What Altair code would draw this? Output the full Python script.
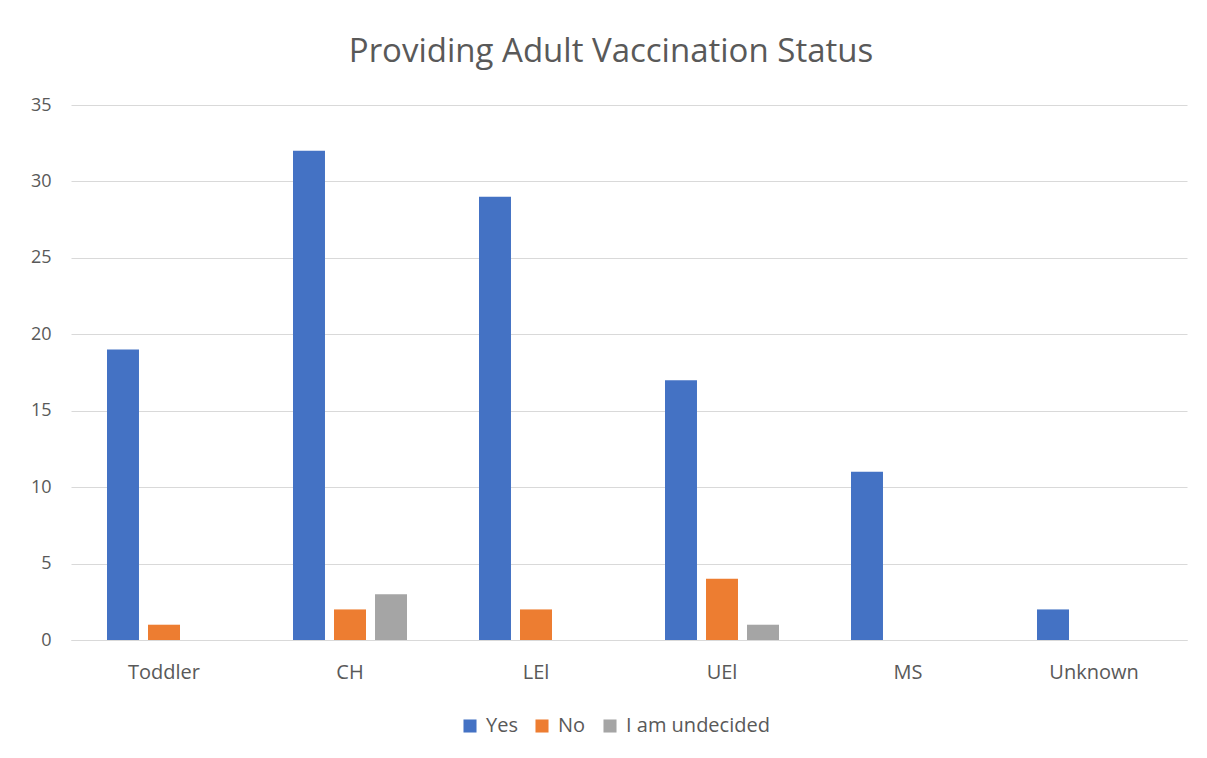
import altair as alt
import pandas as pd

categories = ["Toddler", "CH", "LEl", "UEl", "MS", "Unknown"]
series = ["Yes", "No", "I am undecided"]
yes_vals = [19, 32, 29, 17, 11, 2]
no_vals = [1, 2, 2, 4, 0, 0]
undecided_vals = [0, 3, 0, 1, 0, 0]
colors = ["#4472C4", "#ED7D31", "#A5A5A5"]

rows = []
for s, vals in zip(series, [yes_vals, no_vals, undecided_vals]):
    for c, v in zip(categories, vals):
        rows.append({"category": c, "series": s, "value": v})
df = pd.DataFrame(rows)

FONT = "Open Sans"
TXT = "#595959"

chart = alt.Chart(df).mark_bar().encode(
    x=alt.X("category:N", sort=categories, title=None,
            scale=alt.Scale(paddingInner=0, paddingOuter=0),
            axis=alt.Axis(labelAngle=0, ticks=False, domain=True, domainColor="#d9d9d9",
                          labelFontSize=20, labelColor=TXT, labelFont=FONT, labelPadding=22)),
    xOffset=alt.XOffset("series:N", sort=series,
                        scale=alt.Scale(paddingInner=0.22, paddingOuter=0.878)),
    y=alt.Y("value:Q", title=None,
            scale=alt.Scale(domain=[0, 35]),
            axis=alt.Axis(values=[0, 5, 10, 15, 20, 25, 30, 35], ticks=False, domain=False,
                          gridColor="#d9d9d9", labelFontSize=18, labelColor=TXT,
                          labelFont=FONT, labelPadding=20)),
    color=alt.Color("series:N", sort=series,
                    scale=alt.Scale(domain=series, range=colors),
                    legend=alt.Legend(title=None, orient="none", direction="horizontal",
                                      legendX=389, legendY=611,
                                      symbolType="square", symbolSize=170, symbolStrokeWidth=0,
                                      labelFontSize=20, labelColor=TXT, labelFont=FONT,
                                      columnPadding=14, labelOffset=6)),
).properties(
    width=1116, height=535,
    title=alt.TitleParams("Providing Adult Vaccination Status", fontSize=33,
                          font=FONT, color=TXT, fontWeight="normal", offset=27, dx=-18),
    padding={"left": 63, "top": 97, "right": 12, "bottom": 100},
    autosize=alt.AutoSizeParams(type="none"),
).configure_view(stroke=None)

chart.save("out.html", embed_options={"renderer": "svg", "actions": False})
